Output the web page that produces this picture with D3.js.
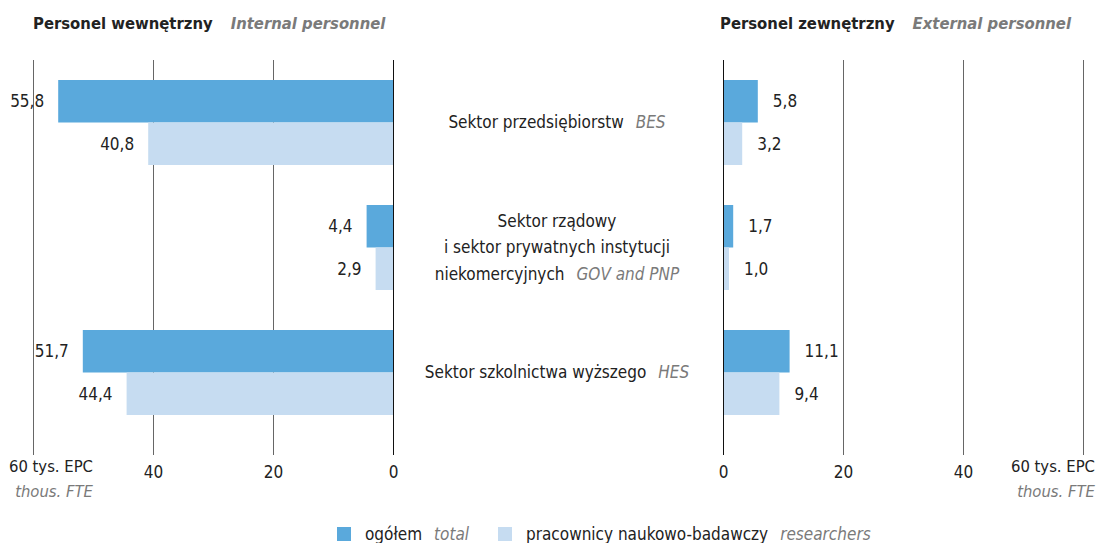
<!DOCTYPE html>
<html>
<head>
<meta charset="utf-8">
<script src="https://cdn.jsdelivr.net/npm/d3@7"></script>
<style>
  body { margin: 0; background: #fff; }
  svg text { font-family: "Liberation Sans Narrow", "DejaVu Sans Condensed", sans-serif; fill: #222; }
  .en { fill: #7a7a7a; font-style: italic; }
</style>
</head>
<body>
<script>
// data
const categories = ["BES", "GOV", "HES"];
const categoryLabels = [
    [["Sektor przedsiębiorstw", "BES"]],
    [["Sektor rządowy", ""], ["i sektor prywatnych instytucji", ""], ["niekomercyjnych", "GOV and PNP"]],
    [["Sektor szkolnictwa wyższego", "HES"]]
];
const internalTotal = [55.8, 4.4, 51.7];
const internalResearchers = [40.8, 2.9, 44.4];
const externalTotal = [5.8, 1.7, 11.1];
const externalResearchers = [3.2, 1.0, 9.4];
const tickValues = [0, 20, 40, 60];
const series = ["total", "researchers"];
const legendLabels = [["ogółem", "total"], ["pracownicy naukowo-badawczy", "researchers"]];

const w = 1109, h = 543;
const colors = { total: "#5aa9dc", researchers: "#c6dcf1" };
const fmt = v => d3.format(".1f")(v).replace(".", ",");

const svg = d3.select("body").append("svg")
    .attr("width", w)
    .attr("height", h);

// scales
const xLeft = d3.scaleLinear().domain([0, 60]).range([393, 33]);
const xRight = d3.scaleLinear().domain([0, 60]).range([723, 1083]);
const y = d3.scaleBand().domain(categories).range([80, 415]).paddingInner(0.32);
const ySub = d3.scaleBand().domain(series).range([0, y.bandwidth()]);

const gridTop = 60, gridBottom = 455;

// gridlines (axes)
function drawAxis(scale) {
    const g = svg.append("g")
        .attr("transform", "translate(0," + gridBottom + ")")
        .call(d3.axisBottom(scale)
            .tickValues(tickValues)
            .tickSize(-(gridBottom - gridTop))
            .tickPadding(8)
            .tickFormat(d => d == 60 ? "" : d));
    g.select(".domain").remove();
    g.selectAll(".tick line")
        .attr("stroke", d => d == 0 ? "#111" : "#666")
        .attr("stroke-width", 1);
    g.selectAll(".tick text")
        .attr("fill", "#222")
        .style("font-size", "17px")
        .attr("dy", "0.9em");
}
drawAxis(xLeft);
drawAxis(xRight);

// unit labels
[[93, "end"], [1095, "end"]].forEach(p => {
    svg.append("text").attr("x", p[0]).attr("y", 472)
        .attr("text-anchor", p[1]).style("font-size", "16.5px").text("60 tys. EPC");
    svg.append("text").attr("x", p[0]).attr("y", 497).attr("class", "en")
        .attr("text-anchor", p[1]).style("font-size", "16.5px").text("thous. FTE");
});

// titles
function title(x, pl, en) {
    const t = svg.append("text").attr("x", x).attr("y", 29)
        .style("font-size", "16.5px").style("font-weight", "bold");
    t.append("tspan").text(pl);
    t.append("tspan").attr("class", "en").attr("dx", 18).text(en);
}
title(33, "Personel wewnętrzny", "Internal personnel");
title(720, "Personel zewnętrzny", "External personnel");

// bars
function drawBars(values, key, scale, side) {
    const gap = ySub.bandwidth();
    svg.selectAll(".bar-" + side + key)
        .data(values)
        .enter()
        .append("rect")
        .attr("x", d => side == "L" ? scale(d) : scale(0))
        .attr("y", (d, i) => y(categories[i]) + ySub(key))
        .attr("width", d => Math.abs(scale(d) - scale(0)))
        .attr("height", gap)
        .attr("fill", colors[key]);

    svg.selectAll(".lab-" + side + key)
        .data(values)
        .enter()
        .append("text")
        .attr("x", d => side == "L" ? scale(d) - 14 : scale(d) + 15)
        .attr("y", (d, i) => y(categories[i]) + ySub(key) + gap / 2)
        .attr("dy", "0.35em")
        .attr("text-anchor", side == "L" ? "end" : "start")
        .style("font-size", "17px")
        .text(fmt);
}
drawBars(internalTotal, "total", xLeft, "L");
drawBars(internalResearchers, "researchers", xLeft, "L");
drawBars(externalTotal, "total", xRight, "R");
drawBars(externalResearchers, "researchers", xRight, "R");

// redraw zero lines on top of bars
[xLeft, xRight].forEach(s => {
    svg.append("line")
        .attr("x1", s(0) + 0.5).attr("x2", s(0) + 0.5)
        .attr("y1", gridTop).attr("y2", gridBottom)
        .attr("stroke", "#111");
});

// category labels
categoryLabels.forEach((lines, i) => {
    const cy = y(categories[i]) + y.bandwidth() / 2;
    const lh = 26.5;
    lines.forEach((ln, j) => {
        const t = svg.append("text")
            .attr("x", 557)
            .attr("y", cy + (j - (lines.length - 1) / 2) * lh)
            .attr("dy", "0.35em")
            .attr("text-anchor", "middle")
            .style("font-size", "17px");
        t.append("tspan").text(ln[0]);
        if (ln[1]) t.append("tspan").attr("class", "en").attr("dx", 12).text(ln[1]);
    });
});

// legend
const legendX = [337, 498];
legendLabels.forEach((l, i) => {
    svg.append("rect")
        .attr("x", legendX[i]).attr("y", 527)
        .attr("width", 14).attr("height", 14)
        .attr("fill", colors[series[i]]);
    const t = svg.append("text")
        .attr("x", legendX[i] + 28).attr("y", 540)
        .style("font-size", "17px");
    t.append("tspan").text(l[0]);
    t.append("tspan").attr("class", "en").attr("dx", 12).text(l[1]);
});
</script>
</body>
</html>
